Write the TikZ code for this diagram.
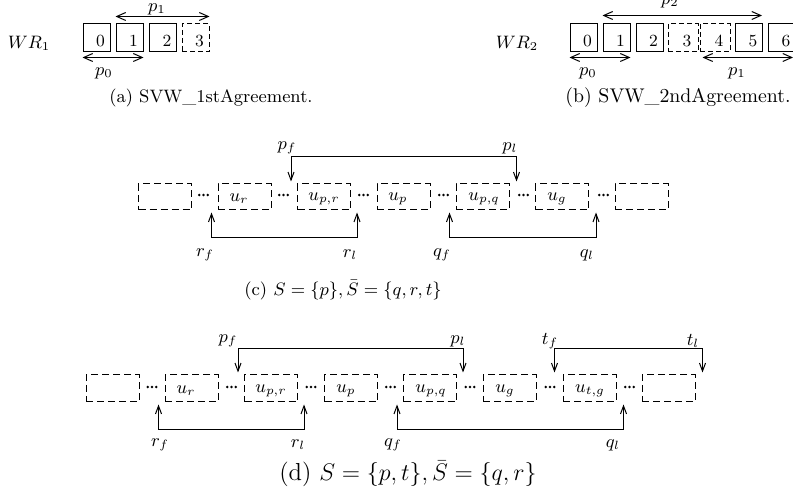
\documentclass[tikz,border=0pt]{standalone}
\usetikzlibrary{arrows.meta}
\begin{document}
\begin{tikzpicture}[x=0.5pt,y=-0.5pt,
  sbox/.style={draw, line width=0.5pt, inner sep=0pt, minimum width=13.5pt, minimum height=14pt},
  dbox/.style={sbox, dash pattern=on 2.5pt off 1.5pt},
  ubox/.style={draw, line width=0.5pt, dash pattern=on 3.5pt off 2pt, inner sep=0pt, minimum width=26.5pt, minimum height=13pt},
  dbl/.style={{Straight Barb[length=4.5pt,width=4pt]}-{Straight Barb[length=4.5pt,width=4pt]}, line width=0.5pt},
  conn/.style={{Straight Barb[length=4pt,width=3pt]}-{Straight Barb[length=4pt,width=3pt]}, line width=0.5pt},
  lbl/.style={font=\fontsize{9}{10}\selectfont, inner sep=0pt},
  dig/.style={font=\fontsize{8.5}{10}\selectfont, inner sep=0pt},
  captxt/.style={inner sep=0pt}
]
\useasboundingbox (0,0) rectangle (793,502);
\clip (0,0) rectangle (793,502);

% ---------- (a)
\node[lbl] (wr1) at (29,43) {$WR_1$};
\node[sbox] (a0) at (96.5,38) {};
\node[sbox] (a1) at (129.5,38) {};
\node[sbox] (a2) at (163,38) {};
\node[dbox] (a3) at (195.5,38) {};
\foreach \n/\t in {a0/0,a1/1,a2/2,a3/3}
  \node[dig] at ([xshift=2pt,yshift=-1.5pt]\n.center) {\t};
\draw[dbl] ([yshift=3.5pt]a1.north west) -- ([yshift=3.5pt]a3.north east);
\node[lbl] (ap1) at (157,9.5) {$p_1$};
\draw[dbl] ([yshift=-2.5pt]a0.south west) -- ([yshift=-2.5pt]a1.south east);
\node[lbl] (ap0) at (104,73) {$p_0$};
\node[captxt, font=\fontsize{9}{10}\selectfont] (capa) at (211,97.5) {(a) SVW\_1stAgreement.};

% ---------- (b)
\node[lbl] (wr2) at (517,43) {$WR_2$};
\node[sbox] (b0) at (583.5,38) {};
\node[sbox] (b1) at (616.5,38) {};
\node[sbox] (b2) at (649.5,38) {};
\node[dbox, minimum width=15pt] (b3) at (683,38) {};
\node[dbox, minimum width=15pt] (b4) at (715,38) {};
\node[sbox] (b5) at (749,38) {};
\node[sbox] (b6) at (782,38) {};
\foreach \n/\t in {b0/0,b1/1,b2/2,b3/3,b4/4,b5/5,b6/6}
  \node[dig] at ([xshift=2pt,yshift=-1.5pt]\n.center) {\t};
\draw[dbl] ([yshift=4pt]b1.north west) -- ([yshift=4pt,xshift=-0.5pt]b5.north east);
\node[lbl] (bp2) at (670,2) {$p_2$};
\draw[dbl] ([yshift=-2.5pt]b0.south west) -- ([yshift=-2.5pt]b1.south east);
\node[lbl] (bp0) at (588,73) {$p_0$};
\draw[dbl] ([yshift=-2.5pt,xshift=1.5pt]b4.south west) -- ([yshift=-2.5pt,xshift=-1.5pt]b6.south east);
\node[lbl] (bp1) at (737,73) {$p_1$};
\node[captxt, font=\fontsize{9.9}{11}\selectfont] (capb) at (678,97.5) {(b) SVW\_2ndAgreement.};

% ---------- (c)
\node[ubox] (c0) at (165,197) {};
\node[ubox] (c1) at (244.5,197) {};
\node[ubox] (c2) at (324,197) {};
\node[ubox] (c3) at (403.5,197) {};
\node[ubox] (c4) at (482.5,197) {};
\node[ubox] (c5) at (562,197) {};
\node[ubox] (c6) at (641.5,197) {};
\node[lbl] at (239,199) {$u_r$};
\node[lbl] at (324,199) {$u_{p,r}$};
\node[lbl] at (398,199) {$u_p$};
\node[lbl] at (484,199) {$u_{p,q}$};
\node[lbl] at (557,199) {$u_g$};
\foreach \x in {203.5,283.5,363.5,443.5,523.5,603.5}
  \fill (\x-4.2,195) circle (0.7pt) (\x,195) circle (0.7pt) (\x+4.2,195) circle (0.7pt);
\coordinate (cpf) at ([xshift=-3pt,yshift=1pt]c2.north west);
\coordinate (cpl) at ([xshift=3.5pt,yshift=1pt]c4.north east);
\draw[conn] (cpf) -- ++(0,-25) -| (cpl);
\coordinate (crf) at ([xshift=-3pt,yshift=-1pt]c1.south west);
\coordinate (crl) at ([xshift=3pt,yshift=-1pt]c2.south east);
\draw[conn] (crf) -- ++(0,25) -| (crl);
\coordinate (cqf) at ([xshift=-3pt,yshift=-1pt]c4.south west);
\coordinate (cql) at ([xshift=3.5pt,yshift=-1pt]c5.south east);
\draw[conn] (cqf) -- ++(0,25) -| (cql);
\node[lbl] at (287,148) {$p_f$};
\node[lbl] at (510,148) {$p_l$};
\node[lbl] at (205,255) {$r_f$};
\node[lbl] at (350,255) {$r_l$};
\node[lbl] at (442,255) {$q_f$};
\node[lbl] at (587,255) {$q_l$};
\node[captxt, font=\fontsize{9.1}{11}\selectfont] (capc) at (343,290) {(c) $S=\{p\},\bar{S}=\{q,r,t\}$};

% ---------- (d)
\node[ubox, minimum height=13.5pt] (d0) at (112.5,388.5) {};
\node[ubox, minimum height=13.5pt] (d1) at (191.5,388.5) {};
\node[ubox, minimum height=13.5pt] (d2) at (271,388.5) {};
\node[ubox, minimum height=13.5pt] (d3) at (351,388.5) {};
\node[ubox, minimum height=13.5pt] (d4) at (430,388.5) {};
\node[ubox, minimum height=13.5pt] (d5) at (509.5,388.5) {};
\node[ubox, minimum height=13.5pt] (d6) at (589.5,388.5) {};
\node[ubox, minimum height=13.5pt] (d7) at (668.5,388.5) {};
\node[lbl] at (186,391) {$u_r$};
\node[lbl] at (271,391) {$u_{p,r}$};
\node[lbl] at (346,391) {$u_p$};
\node[lbl] at (431,391) {$u_{p,q}$};
\node[lbl] at (505,391) {$u_g$};
\node[lbl] at (590,391) {$u_{t,g}$};
\foreach \x in {152,231.5,311,390.5,470,550,629.5}
  \fill (\x-4.2,387) circle (0.7pt) (\x,387) circle (0.7pt) (\x+4.2,387) circle (0.7pt);
\coordinate (dpf) at ([xshift=-3pt,yshift=1pt]d2.north west);
\coordinate (dpl) at ([xshift=3pt,yshift=1pt]d4.north east);
\draw[conn] (dpf) -- ++(0,-24) -| (dpl);
\coordinate (dtf) at ([xshift=-4pt,yshift=1pt]d6.north west);
\coordinate (dtl) at ([xshift=3.5pt,yshift=1pt]d7.north east);
\draw[conn] (dtf) -- ++(0,-24) -| (dtl);
\coordinate (drf) at ([xshift=-3pt,yshift=-1pt]d1.south west);
\coordinate (drl) at ([xshift=3pt,yshift=-1pt]d2.south east);
\draw[conn] (drf) -- ++(0,25) -| (drl);
\coordinate (dqf) at ([xshift=-3pt,yshift=-1pt]d4.south west);
\coordinate (dql) at ([xshift=3.5pt,yshift=-1pt]d6.south east);
\draw[conn] (dqf) -- ++(0,25) -| (dql);
\node[lbl] at (228,341) {$p_f$};
\node[lbl] at (458,341) {$p_l$};
\node[lbl] at (550,341) {$t_f$};
\node[lbl] at (693,341) {$t_l$};
\node[lbl] at (160,445) {$r_f$};
\node[lbl] at (298,445) {$r_l$};
\node[lbl] at (393,445) {$q_f$};
\node[lbl] at (613,445) {$q_l$};
\node[captxt, font=\fontsize{12.3}{14}\selectfont] (capd) at (408,474) {(d) $S=\{p,t\},\bar{S}=\{q,r\}$};
\end{tikzpicture}
\end{document}
